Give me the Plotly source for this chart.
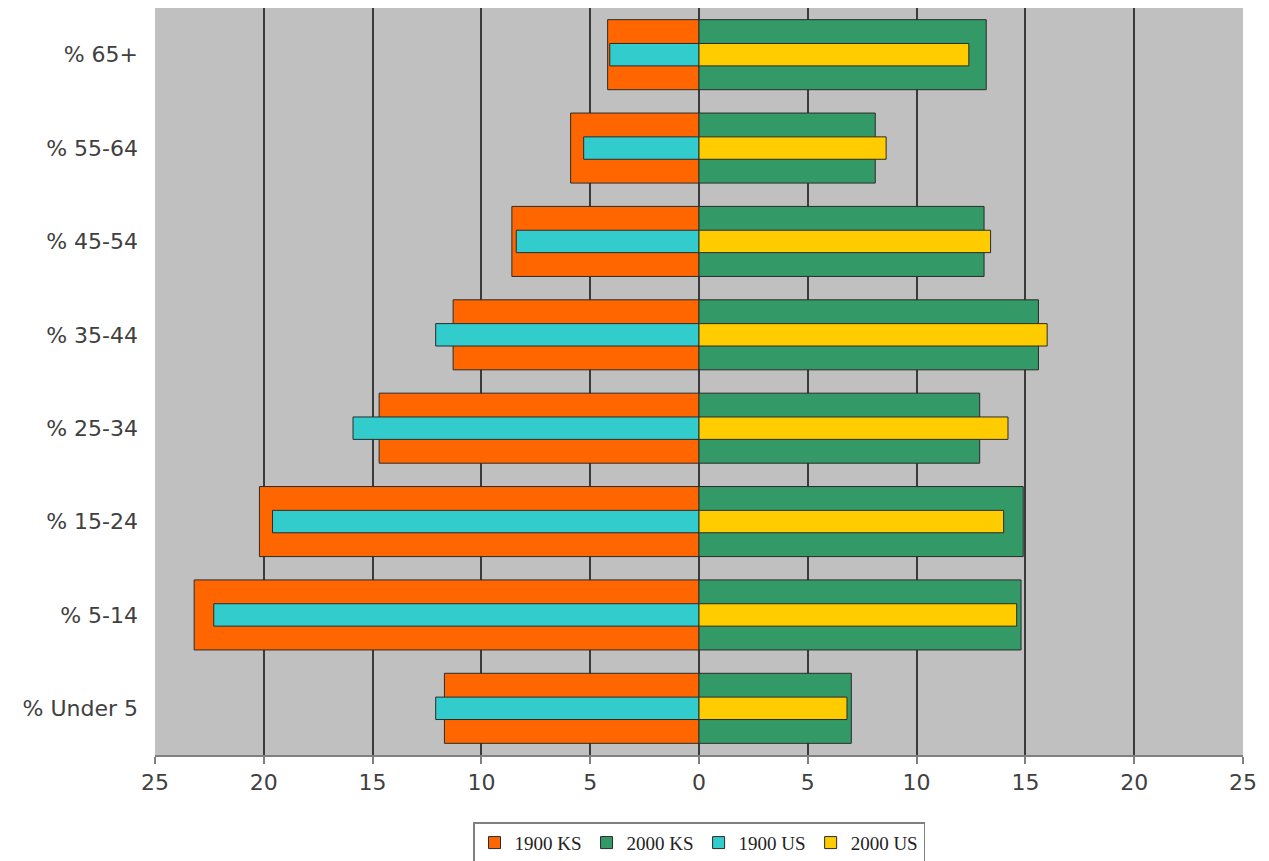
import plotly.graph_objects as go

categories = ["% Under 5", "% 5-14", "% 15-24", "% 25-34", "% 35-44", "% 45-54", "% 55-64", "% 65+"]
ks_1900 = [11.7, 23.2, 20.2, 14.7, 11.3, 8.6, 5.9, 4.2]
ks_2000 = [7.0, 14.8, 14.9, 12.9, 15.6, 13.1, 8.1, 13.2]
us_1900 = [12.1, 22.3, 19.6, 15.9, 12.1, 8.4, 5.3, 4.1]
us_2000 = [6.8, 14.6, 14.0, 14.2, 16.0, 13.4, 8.6, 12.4]
tick_vals = [-25, -20, -15, -10, -5, 0, 5, 10, 15, 20, 25]
tick_text = ["25", "20", "15", "10", "5", "0", "5", "10", "15", "20", "25"]

line = dict(color="#2b2b2b", width=1)
fig = go.Figure()
fig.add_trace(go.Bar(y=categories, x=[-v for v in ks_1900], orientation="h", name="1900 KS",
                     marker=dict(color="#FF6600", line=line), width=0.75))
fig.add_trace(go.Bar(y=categories, x=ks_2000, orientation="h", name="2000 KS",
                     marker=dict(color="#339966", line=line), width=0.75))
fig.add_trace(go.Bar(y=categories, x=[-v for v in us_1900], orientation="h", name="1900 US",
                     marker=dict(color="#33CCCC", line=line), width=0.24))
fig.add_trace(go.Bar(y=categories, x=us_2000, orientation="h", name="2000 US",
                     marker=dict(color="#FFCC00", line=line), width=0.24))

fig.update_layout(
    width=1269, height=861,
    margin=dict(l=147, r=34, t=0, b=114),
    barmode="overlay",
    plot_bgcolor="#C0C0C0",
    paper_bgcolor="white",
    font=dict(family="DejaVu Sans", size=22, color="#404040"),
    showlegend=True,
    legend=dict(orientation="h", x=0.5, xanchor="center", y=-0.09, yanchor="top",
                bordercolor="#808080", borderwidth=1.5,
                font=dict(family="Liberation Serif", size=19, color="#222222"),
                itemwidth=30, tracegroupgap=0),
    xaxis=dict(range=[-25, 25], tickvals=tick_vals, ticktext=tick_text,
               showgrid=True, gridcolor="#3a3a3a", gridwidth=1.5,
               zeroline=False, showline=True, linecolor="#808080", linewidth=2,
               ticks="outside", ticklen=7, tickcolor="#808080", tickwidth=1.5,
               tickfont=dict(size=22)),
    yaxis=dict(categoryorder="array", categoryarray=categories, range=[-0.5, 7.5],
               showgrid=False, zeroline=False, showline=False, ticks="",
               ticklabelstandoff=16, tickfont=dict(size=22)),
)

fig.write_html("out.html")
